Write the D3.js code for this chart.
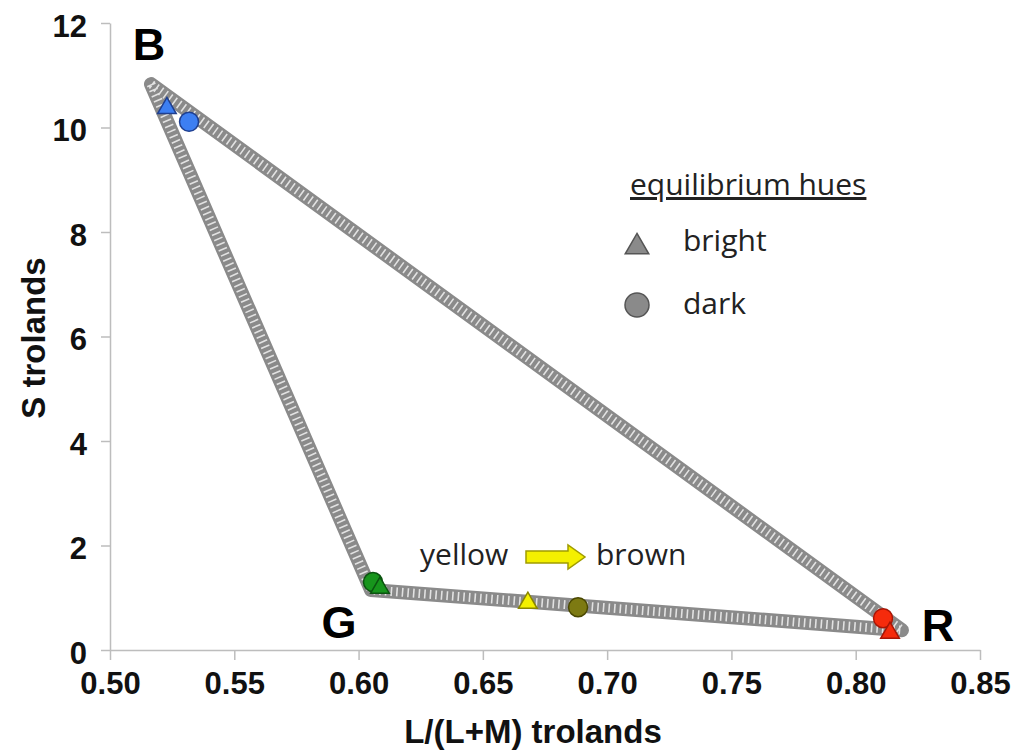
<!DOCTYPE html>
<html>
<head>
<meta charset="utf-8">
<script src="https://cdn.jsdelivr.net/npm/d3@7"></script>
<style>
  body { margin: 0; background: #fff; }
  .axis text { font-family: "Liberation Sans", Arial, sans-serif; font-weight: bold; font-size: 31px; fill: #111; }
  .axis line, .axis path { stroke: #bdbdbd; stroke-width: 1.5; }
  .title { font-family: "Liberation Sans", Arial, sans-serif; font-weight: bold; font-size: 33px; fill: #111; }
  .vertex { font-family: "Liberation Sans", Arial, sans-serif; font-weight: bold; font-size: 45px; fill: #000; }
  .note { font-family: "Open Sans", Lato, sans-serif; font-size: 30px; fill: #222; }
</style>
</head>
<body>
<div id="chart"></div>
<script>
// chromaticity triangle, corners (L/(L+M), S)
var corners = [
  { name: "B", x: 0.5165, y: 10.83 },
  { name: "G", x: 0.6050, y: 1.15 },
  { name: "R", x: 0.8186, y: 0.38 }
];

// equilibrium hues
var brightHues = [
  { hue: "blue",   x: 0.5229, y: 10.37 },
  { hue: "green",  x: 0.6086, y: 1.19 },
  { hue: "yellow", x: 0.6681, y: 0.90 },
  { hue: "red",    x: 0.8138, y: 0.33 }
];
var darkHues = [
  { hue: "blue",   x: 0.5318, y: 10.11 },
  { hue: "green",  x: 0.6058, y: 1.30 },
  { hue: "brown",  x: 0.6883, y: 0.82 },
  { hue: "red",    x: 0.8110, y: 0.61 }
];

var xTicks = [0.50, 0.55, 0.60, 0.65, 0.70, 0.75, 0.80, 0.85];
var yTicks = [0, 2, 4, 6, 8, 10, 12];

var fills = {
  blue:   ["#3d7ff2", "#1f3f8f"],
  green:  ["#17951c", "#0b5410"],
  yellow: ["#f4f000", "#8a8600"],
  brown:  ["#7d7a12", "#4a4800"],
  red:    ["#f52b0c", "#a81505"]
};

var w = 1012, h = 753;

var svg = d3.select("#chart")
  .append("svg")
  .attr("width", w)
  .attr("height", h);

var x = d3.scaleLinear().domain([0.5, 0.85]).range([110, 980]);
var y = d3.scaleLinear().domain([0, 12]).range([650, 23]);

// axes
var xAxis = svg.append("g")
  .attr("class", "axis")
  .attr("transform", "translate(0," + y(0) + ")")
  .call(d3.axisBottom(x).tickValues(xTicks).tickFormat(d3.format(".2f"))
    .tickSize(10).tickSizeOuter(0).tickPadding(12));

var yAxis = svg.append("g")
  .attr("class", "axis")
  .attr("transform", "translate(" + x(0.5) + ",0)")
  .call(d3.axisLeft(y).tickValues(yTicks).tickFormat(d3.format("d"))
    .tickSize(9).tickSizeOuter(0).tickPadding(14));
yAxis.selectAll("text").attr("dy", "0.42em");

svg.append("text")
  .attr("class", "title")
  .attr("x", 533)
  .attr("y", 743)
  .attr("text-anchor", "middle")
  .text("L/(L+M) trolands");

svg.append("text")
  .attr("class", "title")
  .attr("transform", "translate(45,338) rotate(-90)")
  .attr("text-anchor", "middle")
  .text("S trolands");

// triangle made of packed gray markers
var edge = d3.line()
  .x(function(d) { return x(d.x); })
  .y(function(d) { return y(d.y); })
  .curve(d3.curveLinearClosed);

svg.append("path")
  .datum(corners)
  .attr("d", edge)
  .attr("fill", "none")
  .attr("stroke", "#8a8a8a")
  .attr("stroke-width", 14)
  .attr("stroke-linejoin", "round");

svg.append("path")
  .datum(corners)
  .attr("d", edge)
  .attr("fill", "none")
  .attr("stroke", "#e2e2e2")
  .attr("stroke-width", 9)
  .attr("stroke-dasharray", "1.6 4")
  .attr("stroke-linejoin", "round");

// corner labels
var labelPos = { B: [-2, -40], G: [-32, 32], R: [36, -5] };
svg.selectAll(".vertex")
  .data(corners)
  .enter()
  .append("text")
  .attr("class", "vertex")
  .attr("text-anchor", "middle")
  .attr("x", function(d) { return x(d.x) + labelPos[d.name][0]; })
  .attr("y", function(d) { return y(d.y) + labelPos[d.name][1] + 16; })
  .text(function(d) { return d.name; });

// hue markers
var tri = d3.symbol().type(d3.symbolTriangle).size(150);

svg.selectAll(".dark")
  .data(darkHues)
  .enter()
  .append("circle")
  .attr("class", "dark")
  .attr("cx", function(d) { return x(d.x); })
  .attr("cy", function(d) { return y(d.y); })
  .attr("r", 9.5)
  .attr("fill", function(d) { return fills[d.hue][0]; })
  .attr("stroke", function(d) { return fills[d.hue][1]; })
  .attr("stroke-width", 1.5);

svg.selectAll(".bright")
  .data(brightHues)
  .enter()
  .append("path")
  .attr("class", "bright")
  .attr("d", tri)
  .attr("transform", function(d) { return "translate(" + x(d.x) + "," + y(d.y) + ")"; })
  .attr("fill", function(d) { return fills[d.hue][0]; })
  .attr("stroke", function(d) { return fills[d.hue][1]; })
  .attr("stroke-width", 1.5);

// legend
var legend = svg.append("g");
legend.append("text")
  .attr("class", "note")
  .attr("x", 630)
  .attr("y", 195)
  .attr("text-decoration", "underline")
  .text("equilibrium hues");

legend.append("path")
  .attr("d", d3.symbol().type(d3.symbolTriangle).size(240))
  .attr("transform", "translate(637,247)")
  .attr("fill", "#8a8a8a")
  .attr("stroke", "#555")
  .attr("stroke-width", 1.5);
legend.append("text")
  .attr("class", "note")
  .attr("x", 683)
  .attr("y", 251)
  .text("bright");

legend.append("circle")
  .attr("cx", 637)
  .attr("cy", 305)
  .attr("r", 12)
  .attr("fill", "#8a8a8a")
  .attr("stroke", "#555")
  .attr("stroke-width", 1.5);
legend.append("text")
  .attr("class", "note")
  .attr("x", 683)
  .attr("y", 314)
  .text("dark");

// yellow -> brown note
svg.append("text")
  .attr("class", "note")
  .attr("x", 420)
  .attr("y", 565)
  .text("yellow");
svg.append("path")
  .attr("d", "M526,551 L568,551 L568,545 L585,557 L568,569 L568,563 L526,563 Z")
  .attr("fill", "#f4f000")
  .attr("stroke", "#a09c00")
  .attr("stroke-width", 1.5);
svg.append("text")
  .attr("class", "note")
  .attr("x", 596)
  .attr("y", 565)
  .text("brown");
</script>
</body>
</html>
